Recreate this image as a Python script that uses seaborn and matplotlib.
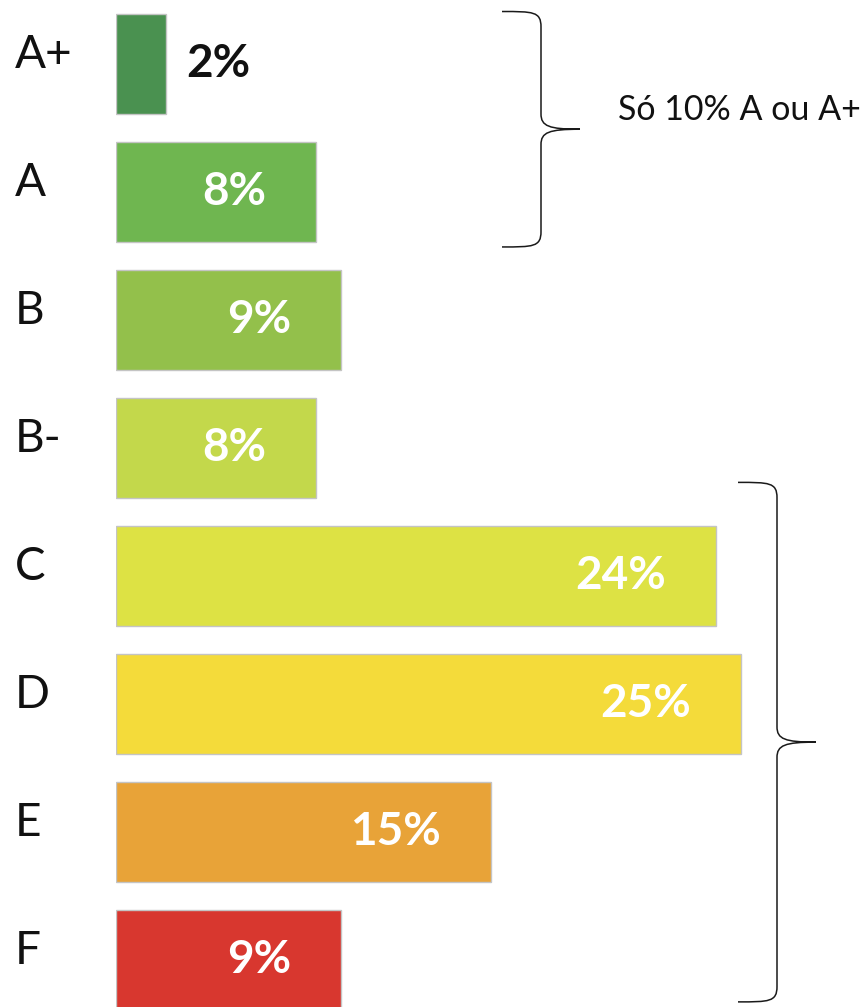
import matplotlib
matplotlib.use("Agg")
import matplotlib.pyplot as plt
import matplotlib.transforms as mtransforms
from matplotlib.path import Path
from matplotlib.patches import PathPatch
import seaborn as sns
import pandas as pd

# Energy certificate classes and share of buildings in each
classes = ["A+", "A", "B", "B-", "C", "D", "E", "F"]
shares = [2, 8, 9, 8, 24, 25, 15, 9]
colors = ["#4a9150", "#6fb650", "#93c04b", "#c3d84b",
          "#dde244", "#f4db3a", "#e8a338", "#d8372f"]
note_text = "Só 10% A ou A+"

sns.set_theme(style="white")
plt.rcParams["font.family"] = ["Lato", "DejaVu Sans"]

df = pd.DataFrame({"classe": classes, "pct": shares})

fig = plt.figure(figsize=(8.66, 10.07), dpi=100)
ax = fig.add_axes([116 / 866, 0, 750 / 866, 1])

sns.barplot(data=df, x="pct", y="classe", hue="classe", palette=colors,
            order=classes, hue_order=classes, orient="h", width=0.78,
            saturation=1, legend=False, edgecolor="#c4c4c4", linewidth=1.0,
            ax=ax)

ax.set_xlim(0, 30)
ax.set_ylim(7.37, -0.5)
ax.set_xlabel("")
ax.set_ylabel("")
ax.set_xticks([])
ax.set_yticks([])
for s in ax.spines.values():
    s.set_visible(False)

# class names on the left
label_tr = mtransforms.blended_transform_factory(ax.transAxes, ax.transData)
for i, c in enumerate(classes):
    ax.text(-0.1347, i - 0.07, c, transform=label_tr, ha="left", va="center",
            fontsize=33, color="#111111")

# value labels
for i, v in enumerate(shares):
    if v < 4:
        ax.text(v + 0.8, i, f"{v}%", ha="left", va="center",
                fontsize=33, fontweight="bold", color="#111111")
    else:
        ax.text(v - 2.0, i, f"{v}%", ha="right", va="center",
                fontsize=33, fontweight="bold", color="white")


def brace(ax, y0, y1, x_arm, x_line, x_tip, r=0.12):
    """Right-pointing curly brace spanning y0..y1 (data units)."""
    ym = (y0 + y1) / 2
    verts = [
        (x_arm, y0),
        (x_arm + (x_line - x_arm) * 0.8, y0), (x_line, y0), (x_line, y0 + r),
        (x_line, ym - r),
        (x_line, ym - r * 0.2), (x_line + (x_tip - x_line) * 0.2, ym), (x_tip, ym),
        (x_line + (x_tip - x_line) * 0.2, ym), (x_line, ym + r * 0.2), (x_line, ym + r),
        (x_line, y1 - r),
        (x_line, y1), (x_arm + (x_line - x_arm) * 0.8, y1), (x_arm, y1),
    ]
    codes = [Path.MOVETO,
             Path.CURVE4, Path.CURVE4, Path.CURVE4,
             Path.LINETO,
             Path.CURVE4, Path.CURVE4, Path.CURVE4,
             Path.CURVE4, Path.CURVE4, Path.CURVE4,
             Path.LINETO,
             Path.CURVE4, Path.CURVE4, Path.CURVE4]
    ax.add_patch(PathPatch(Path(verts, codes), facecolor="none",
                           edgecolor="#1a1a1a", linewidth=1.1,
                           clip_on=False))
    return ym


brace(ax, -0.41, 1.43, 15.44, 17.0, 18.56)
ax.text(20.08, 0.36, note_text, ha="left", va="center", fontsize=24.5,
        color="#111111")
brace(ax, 3.27, 7.33, 24.88, 26.44, 28.0)

fig.savefig("out.png", dpi=100, facecolor="white")
